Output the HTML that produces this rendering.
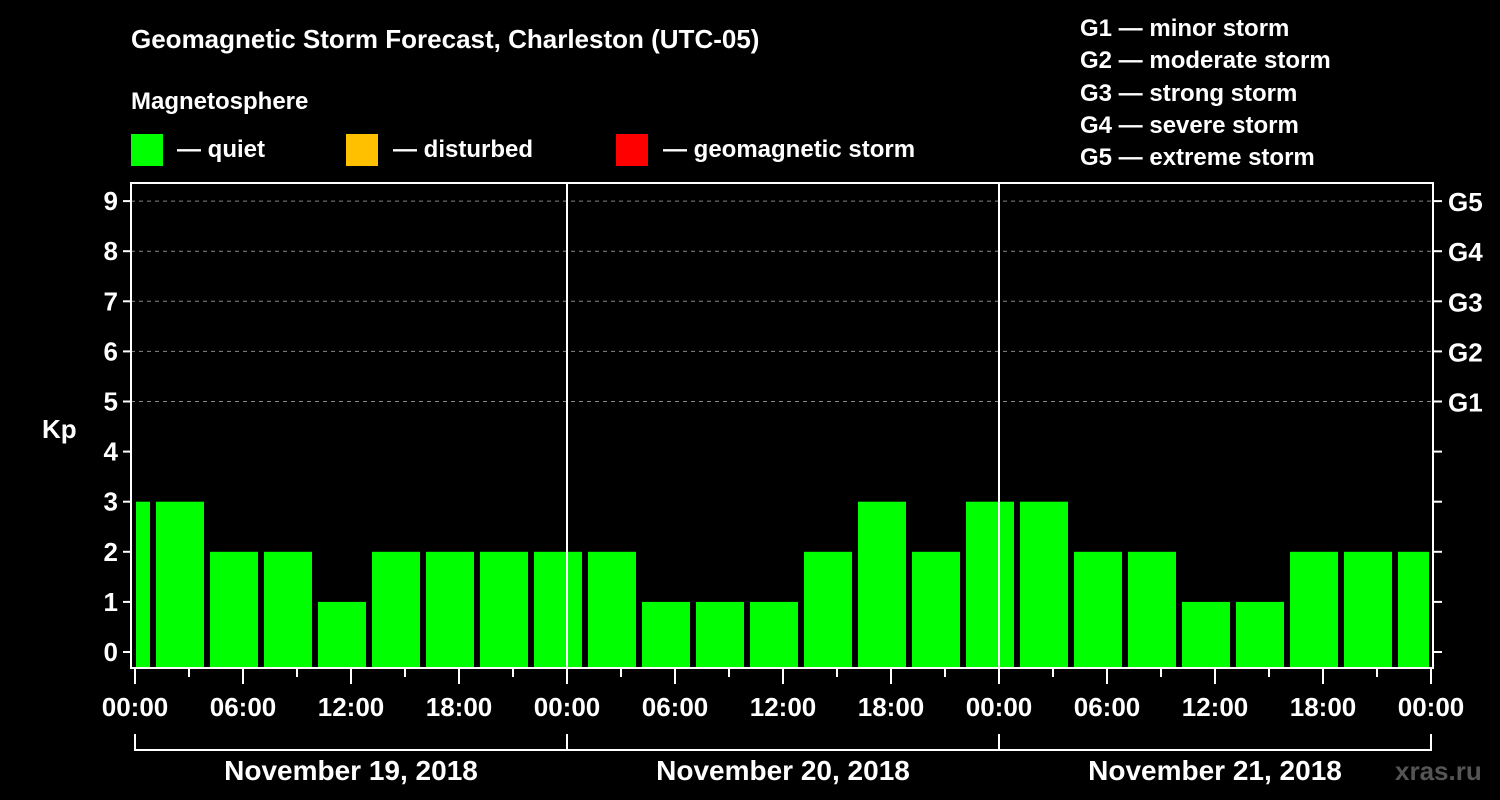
<!DOCTYPE html>
<html><head><meta charset="utf-8"><style>
body{margin:0;background:#000;}
svg{display:block;font-family:"Liberation Sans",sans-serif;font-weight:bold;}
</style></head><body>
<svg width="1500" height="800" viewBox="0 0 1500 800">
<rect x="0" y="0" width="1500" height="800" fill="#000"/>
<text x="131" y="48" fill="#fff" font-size="26">Geomagnetic Storm Forecast, Charleston (UTC-05)</text>
<text x="131" y="109" fill="#fff" font-size="24">Magnetosphere</text>
<g><rect x="131" y="134" width="32" height="32" fill="#00ff00"/><text x="177" y="157" fill="#fff" font-size="24">— quiet</text></g>
<g><rect x="346" y="134" width="32" height="32" fill="#ffc000"/><text x="393" y="157" fill="#fff" font-size="24">— disturbed</text></g>
<g><rect x="616" y="134" width="32" height="32" fill="#ff0000"/><text x="663" y="157" fill="#fff" font-size="24">— geomagnetic storm</text></g>
<g fill="#fff" font-size="24">
<text x="1080" y="36">G1 — minor storm</text>
<text x="1080" y="68">G2 — moderate storm</text>
<text x="1080" y="101">G3 — strong storm</text>
<text x="1080" y="133">G4 — severe storm</text>
<text x="1080" y="165">G5 — extreme storm</text>
</g>
<text x="42" y="438" fill="#fff" font-size="26">Kp</text>
<text x="1395" y="780" fill="#555" font-size="26">xras.ru</text>
<g id="chart"></g>
</svg>
<script>
const binStartHours = [-2,1,4,7,10,13,16,19,22,25,28,31,34,37,40,43,46,49,52,55,58,61,64,67,70];
const kpValues = [3,3,2,2,1,2,2,2,2,2,1,1,1,2,3,2,3,3,2,2,1,1,2,2,2];
const kpTicks = [0,1,2,3,4,5,6,7,8,9];
const gLabels = ["G1","G2","G3","G4","G5"];
const dayLabels = ["November 19, 2018","November 20, 2018","November 21, 2018"];
const hourLabels = ["00:00","06:00","12:00","18:00"];

const NS="http://www.w3.org/2000/svg";
const g=document.getElementById('chart');
const X0=135, PXH=18, TOTAL=72;
const xs=h=>X0+h*PXH;
const ys=v=>652-v*50.1;
const L=131,R=1433,T=183,B=668;
function el(tag,attrs,parent){const e=document.createElementNS(NS,tag);for(const k in attrs)e.setAttribute(k,attrs[k]);(parent||g).appendChild(e);return e;}

// grid
kpTicks.forEach(v=>{if(v>=5){const l=el('line',{x1:L,x2:R,y1:ys(v),y2:ys(v),stroke:'#888','stroke-dasharray':'4 4','stroke-width':1});

}});
// bars
binStartHours.forEach((h,i)=>{
  let x1=Math.max(xs(h)+3,xs(0)+1), x2=Math.min(xs(h+3)-3,xs(TOTAL)-2);
  const v=kpValues[i];
  const col=v>=5?'#ff0000':(v>=4?'#ffc000':'#00ff00');
  const r=el('rect',{x:x1,y:ys(v),width:x2-x1,height:B-ys(v),fill:col});
  
  
});
// day separators
[24,48].forEach(h=>{const l=el('line',{x1:xs(h),x2:xs(h),y1:T,y2:B,stroke:'#fff','stroke-width':2});

});
// frame
const fr=el('rect',{x:L,y:T,width:R-L,height:B-T,fill:'none',stroke:'#fff','stroke-width':2});


// y ticks
kpTicks.forEach(v=>{
  el('line',{x1:L-8,x2:L,y1:ys(v),y2:ys(v),stroke:'#fff','stroke-width':2});
  el('line',{x1:R,x2:R+9,y1:ys(v),y2:ys(v),stroke:'#fff','stroke-width':2});
  const t=el('text',{x:L-13,y:ys(v)+9,fill:'#fff','font-size':26,'text-anchor':'end'});t.textContent=v;
  
  
  if(v>=5){const gt=el('text',{x:1448,y:ys(v)+10,fill:'#fff','font-size':26});gt.textContent=gLabels[v-5];
  
  }
});
// x ticks
for(let h=0;h<=TOTAL;h+=3){
  const major=h%6===0;
  el('line',{x1:xs(h),x2:xs(h),y1:B,y2:B+(major?16:9),stroke:'#fff','stroke-width':2});
  if(major){const t=el('text',{x:xs(h),y:716,fill:'#fff','font-size':26,'text-anchor':'middle'});t.textContent=hourLabels[(h/6)%4];
  
  }
}
// day brackets
dayLabels.forEach((d,i)=>{
  const a=xs(i*24),b=xs(i*24+24);
  el('polyline',{points:`${a},734 ${a},750 ${b},750 ${b},734`,fill:'none',stroke:'#fff','stroke-width':2});
  const t=el('text',{x:(a+b)/2,y:780,fill:'#fff','font-size':28,'text-anchor':'middle'});t.textContent=d;
  
  
});
</script>
</body></html>
